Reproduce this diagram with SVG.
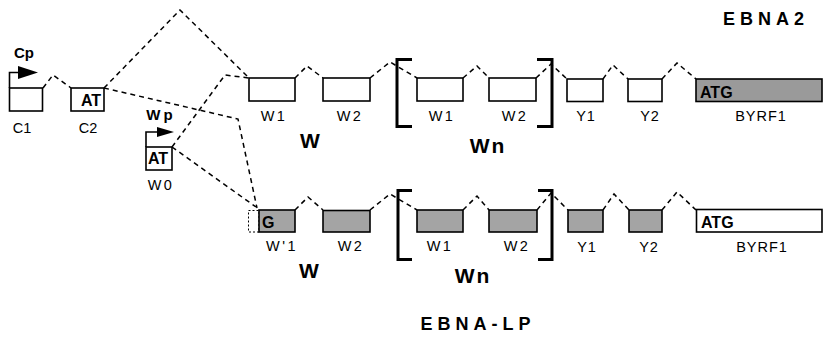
<svg xmlns="http://www.w3.org/2000/svg" width="825" height="337" viewBox="0 0 825 337">
<style>
.box{fill:#fff;stroke:#000;stroke-width:1.6}
.gray{fill:#a4a4a4;stroke:#000;stroke-width:1.6}
.dgray{fill:#9a9a9a;stroke:#000;stroke-width:1.6}
.dbox{fill:#fff;stroke:#000;stroke-width:1;stroke-dasharray:2 2}
.conn{fill:none;stroke:#000;stroke-width:1.5;stroke-dasharray:5 4}
.br{fill:none;stroke:#000;stroke-width:3}
.ln{fill:none;stroke:#000;stroke-width:1.6}
text{font-family:"Liberation Sans",Arial,sans-serif;fill:#000}
.lbl{font-size:14.5px;text-anchor:middle}
.wl{font-size:14.5px;text-anchor:middle;letter-spacing:2.5px}
.in{font-size:16px;font-weight:bold}
.big{font-size:21px;font-weight:bold;text-anchor:middle}
.title{font-size:18px;font-weight:bold;text-anchor:middle;letter-spacing:5px}
.prom{font-size:15px;font-weight:bold;text-anchor:middle}
</style>
<rect width="825" height="337" fill="#fff"/>

<g id="connectors">
  <polyline class="conn" points="43,88 53,75 71,88"/>
  <polyline class="conn" points="104,88 180,10 249,78"/>
  <polyline class="conn" points="104,88 238,119 257,208"/>
  <polyline class="conn" points="172,147 225,75 249,78"/>
  <polyline class="conn" points="172,147 256,207"/>
  <polyline class="conn" points="295,78 307,66 323,78"/>
  <polyline class="conn" points="370,78 390,62 417,78"/>
  <polyline class="conn" points="463,78 477,66 489,78"/>
  <polyline class="conn" points="536,78 551,64 567,79"/>
  <polyline class="conn" points="603,79 613,65 628,79"/>
  <polyline class="conn" points="662,79 677,63 696,79"/>
  <polyline class="conn" points="295,210 308,197 323,210"/>
  <polyline class="conn" points="370,210 390,194 417,210"/>
  <polyline class="conn" points="463,210 477,196 489,210"/>
  <polyline class="conn" points="537,210 551,193 568,210"/>
  <polyline class="conn" points="603,210 614,194 629,210"/>
  <polyline class="conn" points="662,210 677,192 696,210"/>
</g>

<g id="C1">
  <rect class="box" x="9.5" y="88" width="33" height="23"/>
  <polyline class="ln" points="9.5,88 9.5,72.5 19,72.5"/>
  <polygon points="18,66 38,72.5 18,79" fill="#000"/>
  <text class="prom" x="24" y="58">Cp</text>
  <text class="lbl" x="22" y="133">C1</text>
</g>
<g id="C2">
  <rect class="box" x="71" y="88" width="33" height="23"/>
  <text class="in" x="81" y="106">AT</text>
  <text class="lbl" x="88" y="133">C2</text>
</g>
<g id="W0">
  <rect class="box" x="146" y="147" width="26" height="23"/>
  <polyline class="ln" points="146,147 146,132 157,132"/>
  <polygon points="157,127 174,132 157,137" fill="#000"/>
  <text class="in" x="148" y="164">AT</text>
  <text class="prom" x="161" y="120" style="letter-spacing:3px">Wp</text>
  <text class="wl" x="161" y="190">W0</text>
</g>

<g id="top-W1">
  <rect class="box" x="249" y="78" width="46" height="23"/>
  <text class="wl" x="274" y="121">W1</text>
</g>
<g id="top-W2">
  <rect class="box" x="323" y="78" width="47" height="23"/>
  <text class="wl" x="350" y="121">W2</text>
</g>
<g id="top-W-label"><text class="big" x="310" y="148">W</text></g>
<g id="top-bracket">
  <polyline class="br" points="412,59.5 397,59.5 397,126.5 412,126.5"/>
  <polyline class="br" points="537,59.5 552,59.5 552,126.5 537,126.5"/>
</g>
<g id="top-Wn-W1">
  <rect class="box" x="417" y="78" width="46" height="23"/>
  <text class="wl" x="442" y="121">W1</text>
</g>
<g id="top-Wn-W2">
  <rect class="box" x="489" y="78" width="47" height="23"/>
  <text class="wl" x="515" y="121">W2</text>
</g>
<g id="top-Wn-label"><text class="big" x="488" y="153" style="letter-spacing:2px">Wn</text></g>
<g id="top-Y1">
  <rect class="box" x="567" y="79" width="36" height="22.5"/>
  <text class="lbl" x="586" y="121" style="letter-spacing:1px">Y1</text>
</g>
<g id="top-Y2">
  <rect class="box" x="628" y="79" width="34" height="22.5"/>
  <text class="lbl" x="650" y="121" style="letter-spacing:1px">Y2</text>
</g>
<g id="top-BYRF1">
  <rect class="dgray" x="696" y="79" width="126" height="22.5"/>
  <text class="in" x="700" y="98">ATG</text>
  <text class="lbl" x="761" y="121" style="letter-spacing:1px">BYRF1</text>
</g>
<g id="EBNA2"><text class="title" x="766" y="25">EBNA2</text></g>

<g id="bot-W1p">
  <rect class="dbox" x="248.5" y="210.5" width="10.5" height="21.5"/>
  <rect class="gray" x="259" y="210" width="36" height="22"/>
  <text class="in" x="262" y="228">G</text>
  <text class="wl" x="282" y="251">W'1</text>
</g>
<g id="bot-W2">
  <rect class="gray" x="323" y="210.5" width="47" height="21.5"/>
  <text class="wl" x="351" y="251">W2</text>
</g>
<g id="bot-W-label"><text class="big" x="309" y="278">W</text></g>
<g id="bot-bracket">
  <polyline class="br" points="412,190.5 398,190.5 398,259.5 412,259.5"/>
  <polyline class="br" points="538,190.5 552,190.5 552,259.5 538,259.5"/>
</g>
<g id="bot-Wn-W1">
  <rect class="gray" x="417" y="210" width="46" height="22"/>
  <text class="wl" x="440" y="251">W1</text>
</g>
<g id="bot-Wn-W2">
  <rect class="gray" x="489" y="210" width="48" height="22"/>
  <text class="wl" x="517" y="251">W2</text>
</g>
<g id="bot-Wn-label"><text class="big" x="473" y="283" style="letter-spacing:2px">Wn</text></g>
<g id="bot-Y1">
  <rect class="gray" x="568" y="210" width="35" height="22"/>
  <text class="lbl" x="587" y="252" style="letter-spacing:1px">Y1</text>
</g>
<g id="bot-Y2">
  <rect class="gray" x="629" y="210" width="33" height="22"/>
  <text class="lbl" x="649" y="252" style="letter-spacing:1px">Y2</text>
</g>
<g id="bot-BYRF1">
  <rect class="box" x="696.5" y="209.5" width="125.5" height="22.5"/>
  <text class="in" x="701" y="228">ATG</text>
  <text class="lbl" x="762" y="252" style="letter-spacing:1px">BYRF1</text>
</g>
<g id="EBNA-LP"><text class="title" x="478" y="330">EBNA-LP</text></g>
</svg>
